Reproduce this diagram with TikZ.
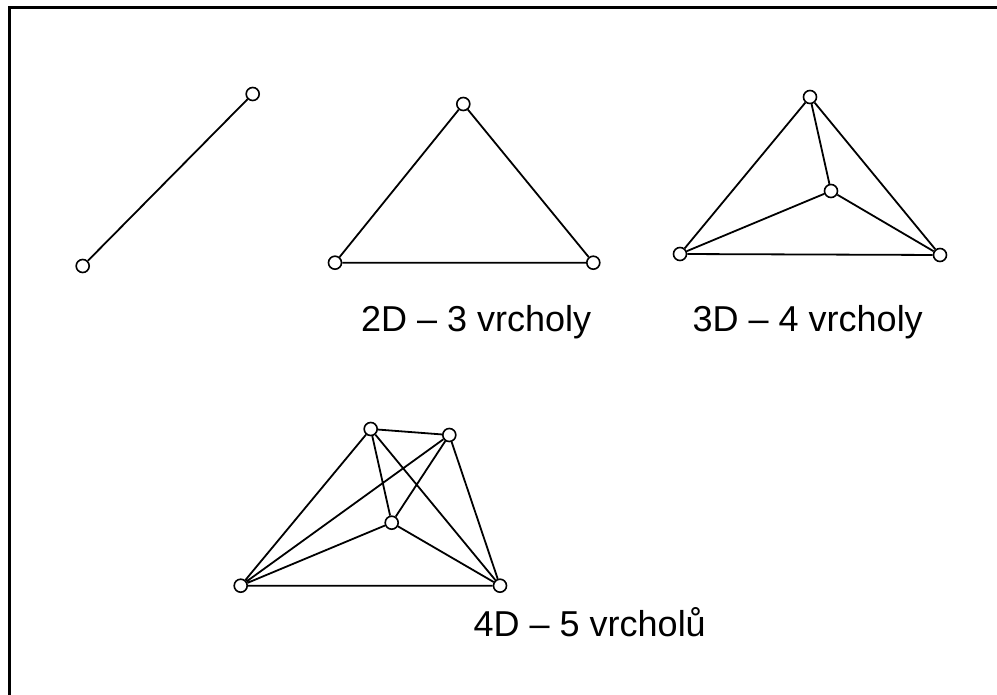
\documentclass[tikz,border=0pt]{standalone}
\usepackage{fontspec}
\setmainfont{Liberation Sans}
\begin{document}
\begin{tikzpicture}[x=1pt,y=-1pt,
  vtx/.style={circle,draw,line width=1.6pt,fill=white,minimum size=13pt,inner sep=0pt},
  edge/.style={line width=1.8pt},
  lbl/.style={anchor=base west,inner sep=0pt,font=\fontsize{36}{40}\selectfont}]
\useasboundingbox (0,0) rectangle (997,695);
\draw[line width=2.5pt] (997,7.5) -- (9.5,7.5) -- (9.5,695);
% 1D
\node[vtx] (a1) at (82.7,266) {};
\node[vtx] (a2) at (252.7,94) {};
\draw[edge] (a1) -- (a2);
% 2D
\node[vtx] (b1) at (335,262.7) {};
\node[vtx] (b2) at (463.3,104) {};
\node[vtx] (b3) at (593.3,262.7) {};
\draw[edge] (b1) -- (b2) (b2) -- (b3) (b1) -- (b3);
% 3D
\node[vtx] (c1) at (680,254) {};
\node[vtx] (c2) at (810,97) {};
\node[vtx] (c3) at (831,191) {};
\node[vtx] (c4) at (940,255) {};
\draw[edge] (c1) -- (c2) (c1) -- (c3) (c1) -- (c4) (c2) -- (c3) (c2) -- (c4) (c3) -- (c4);
% 4D
\node[vtx] (dA) at (370.7,429) {};
\node[vtx] (dB) at (449.3,435) {};
\node[vtx] (dC) at (391.7,522.7) {};
\node[vtx] (dD) at (240.7,585.7) {};
\node[vtx] (dE) at (500,585.7) {};
\draw[edge] (dA) -- (dB) (dA) -- (dC) (dA) -- (dD) (dA) -- (dE)
  (dB) -- (dC) (dB) -- (dD) (dB) -- (dE)
  (dC) -- (dD) (dC) -- (dE) (dD) -- (dE);
% labels
\node[lbl] (t2) at (361,332) {2D – 3 vrcholy};
\node[lbl] (t3) at (692.5,332) {3D – 4 vrcholy};
\node[lbl] (t4) at (473.5,636) {4D – 5 vrcholů};
\end{tikzpicture}
\end{document}
